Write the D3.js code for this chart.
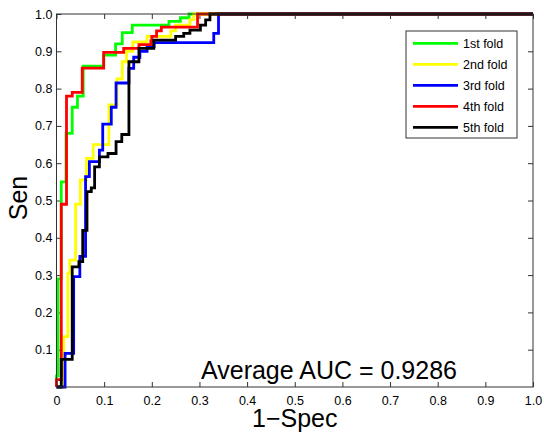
<!DOCTYPE html>
<html lang="en">
<head>
<meta charset="UTF-8">
<title>ROC curves</title>
<script src="https://d3js.org/d3.v7.min.js"></script>
<style>
  body {margin:0; background:#fff;}
  text {font-family: "Liberation Sans", Arial, sans-serif;}
</style>
</head>
<body>
<div id="chart"></div>
<script>
// ROC points (1-Spec, Sen)
var fold1X = [0,0,0.003,0.003,0.01,0.01,0.02,0.02,0.033,0.033,0.044,0.044,0.056,0.056,0.099,0.099,0.124,0.124,0.138,0.138,0.159,0.159,0.236,0.236,0.26,0.26,0.278,0.278,1];
var fold1Y = [0,0.03,0.03,0.29,0.29,0.55,0.55,0.68,0.68,0.75,0.75,0.78,0.78,0.86,0.86,0.89,0.89,0.92,0.92,0.95,0.95,0.97,0.97,0.98,0.98,0.99,0.99,1,1];

var fold2X = [0,0.015,0.015,0.024,0.024,0.028,0.028,0.04,0.04,0.05,0.05,0.063,0.063,0.077,0.077,0.11,0.11,0.127,0.127,0.138,0.138,0.147,0.147,0.16,0.16,0.19,0.19,0.24,0.24,0.25,0.25,0.28,0.28,0.288,0.288,1];
var fold2Y = [0,0,0.135,0.135,0.305,0.305,0.34,0.34,0.49,0.49,0.555,0.555,0.613,0.613,0.65,0.65,0.756,0.756,0.826,0.826,0.872,0.872,0.9,0.9,0.925,0.925,0.94,0.94,0.955,0.955,0.97,0.97,0.985,0.985,1,1];

var fold3X = [0,0.018,0.018,0.036,0.036,0.049,0.049,0.061,0.061,0.069,0.069,0.09,0.09,0.097,0.097,0.115,0.115,0.125,0.125,0.152,0.152,0.162,0.162,0.175,0.175,0.19,0.19,0.205,0.205,0.33,0.33,0.34,0.34,1];
var fold3Y = [0,0,0.09,0.09,0.296,0.296,0.35,0.35,0.564,0.564,0.604,0.604,0.635,0.635,0.705,0.705,0.75,0.75,0.815,0.815,0.854,0.854,0.884,0.884,0.9,0.9,0.912,0.912,0.923,0.923,0.948,0.948,1,1];

var fold4X = [0,0,0.01,0.01,0.021,0.021,0.033,0.033,0.054,0.054,0.099,0.099,0.141,0.141,0.173,0.173,0.198,0.198,0.2,0.2,0.21,0.21,0.22,0.22,0.296,0.296,1];
var fold4Y = [0,0.02,0.02,0.49,0.49,0.78,0.78,0.79,0.79,0.855,0.855,0.897,0.897,0.908,0.908,0.918,0.918,0.928,0.928,0.94,0.94,0.955,0.955,0.965,0.965,1,1];

var fold5X = [0,0.01,0.01,0.033,0.033,0.047,0.047,0.055,0.055,0.064,0.064,0.073,0.073,0.08,0.08,0.09,0.09,0.108,0.108,0.125,0.125,0.137,0.137,0.152,0.152,0.173,0.173,0.204,0.204,0.25,0.25,0.267,0.267,0.28,0.28,0.302,0.302,0.313,0.313,0.322,0.322,1];
var fold5Y = [0,0,0.074,0.074,0.322,0.322,0.336,0.336,0.42,0.42,0.524,0.524,0.534,0.534,0.59,0.59,0.617,0.617,0.626,0.626,0.658,0.658,0.677,0.677,0.872,0.872,0.908,0.908,0.93,0.93,0.94,0.94,0.948,0.948,0.957,0.957,0.97,0.97,0.984,0.984,1,1];

var foldNames = ["1st fold","2nd fold","3rd fold","4th fold","5th fold"];
var foldColors = ["#00ff00","#ffff00","#0000ff","#ff0000","#000000"];
var xTicks = [0,0.1,0.2,0.3,0.4,0.5,0.6,0.7,0.8,0.9,1];
var yTicks = [0.1,0.2,0.3,0.4,0.5,0.6,0.7,0.8,0.9,1];
var aucText = "Average AUC = 0.9286";

var W = 544, H = 435;
var pL = 56.5, pR = 533, pT = 14, pB = 387;

var svg = d3.select("#chart").append("svg")
    .attr("width", W)
    .attr("height", H);

var x = d3.scaleLinear().domain([0,1]).range([pL, pR]);
var y = d3.scaleLinear().domain([0,1]).range([pB, pT]);

// axes, ticks inward like matlab
var axCol = "#333";
var fmtX = function(d) { return d === 0 ? "0" : d.toFixed(1); };
var fmtY = function(d) { return d.toFixed(1); };

var gx = svg.append("g").attr("transform","translate(0,"+pB+")")
    .call(d3.axisBottom(x).tickValues(xTicks).tickFormat(fmtX).tickSizeInner(-5).tickSizeOuter(0).tickPadding(9));
var gy = svg.append("g").attr("transform","translate("+pL+",0)")
    .call(d3.axisLeft(y).tickValues(yTicks).tickFormat(fmtY).tickSizeInner(-5).tickSizeOuter(0).tickPadding(4));
var gt = svg.append("g").attr("transform","translate(0,"+pT+")")
    .call(d3.axisTop(x).tickValues(xTicks).tickFormat("").tickSizeInner(-5).tickSizeOuter(0));
var gr = svg.append("g").attr("transform","translate("+pR+",0)")
    .call(d3.axisRight(y).tickValues(yTicks).tickFormat("").tickSizeInner(-5).tickSizeOuter(0));

[gx, gy, gt, gr].forEach(function(g) {
    g.select(".domain").remove();
    g.selectAll("line").attr("stroke", axCol);
    g.attr("font-size", null).attr("font-family", null);
    g.selectAll("text").attr("font-size", "12.5px").attr("fill", "#000");
});

// curves
var line = d3.line().x(function(d) { return x(d[0]); }).y(function(d) { return y(d[1]); });
var foldXs = [fold1X, fold2X, fold3X, fold4X, fold5X];
var foldYs = [fold1Y, fold2Y, fold3Y, fold4Y, fold5Y];

foldXs.forEach(function(xs, i) {
    var pts = xs.map(function(v, j) { return [v, foldYs[i][j]]; });
    svg.append("path")
        .datum(pts)
        .attr("d", line)
        .attr("fill", "none")
        .attr("stroke", foldColors[i])
        .attr("stroke-width", 2.8)
        .attr("stroke-linejoin", "miter");
});

// box
svg.append("rect")
    .attr("x", pL).attr("y", pT)
    .attr("width", pR - pL).attr("height", pB - pT)
    .attr("fill", "none").attr("stroke", axCol).attr("stroke-width", 1);

// legend
var lg = svg.append("g");
lg.append("rect")
    .attr("x", 406).attr("y", 31).attr("width", 111).attr("height", 107)
    .attr("fill", "#fff").attr("stroke", axCol).attr("stroke-width", 1);
foldNames.forEach(function(name, i) {
    var ly = 43.3 + i * 21;
    lg.append("line")
        .attr("x1", 413).attr("x2", 458).attr("y1", ly).attr("y2", ly)
        .attr("stroke", foldColors[i]).attr("stroke-width", 2.8);
    lg.append("text")
        .attr("x", 463).attr("y", ly + 4.5)
        .attr("font-size", "12.5px")
        .text(name);
});

// texts
svg.append("text")
    .attr("x", 201).attr("y", 379)
    .attr("font-size", "25px")
    .text(aucText);

svg.append("text")
    .attr("x", (pL + pR) / 2).attr("y", 427)
    .attr("text-anchor", "middle")
    .attr("font-size", "25px")
    .text("1\u2212Spec");

svg.append("text")
    .attr("transform", "translate(27,198) rotate(-90)")
    .attr("text-anchor", "middle")
    .attr("font-size", "25px")
    .text("Sen");
</script>
</body>
</html>
